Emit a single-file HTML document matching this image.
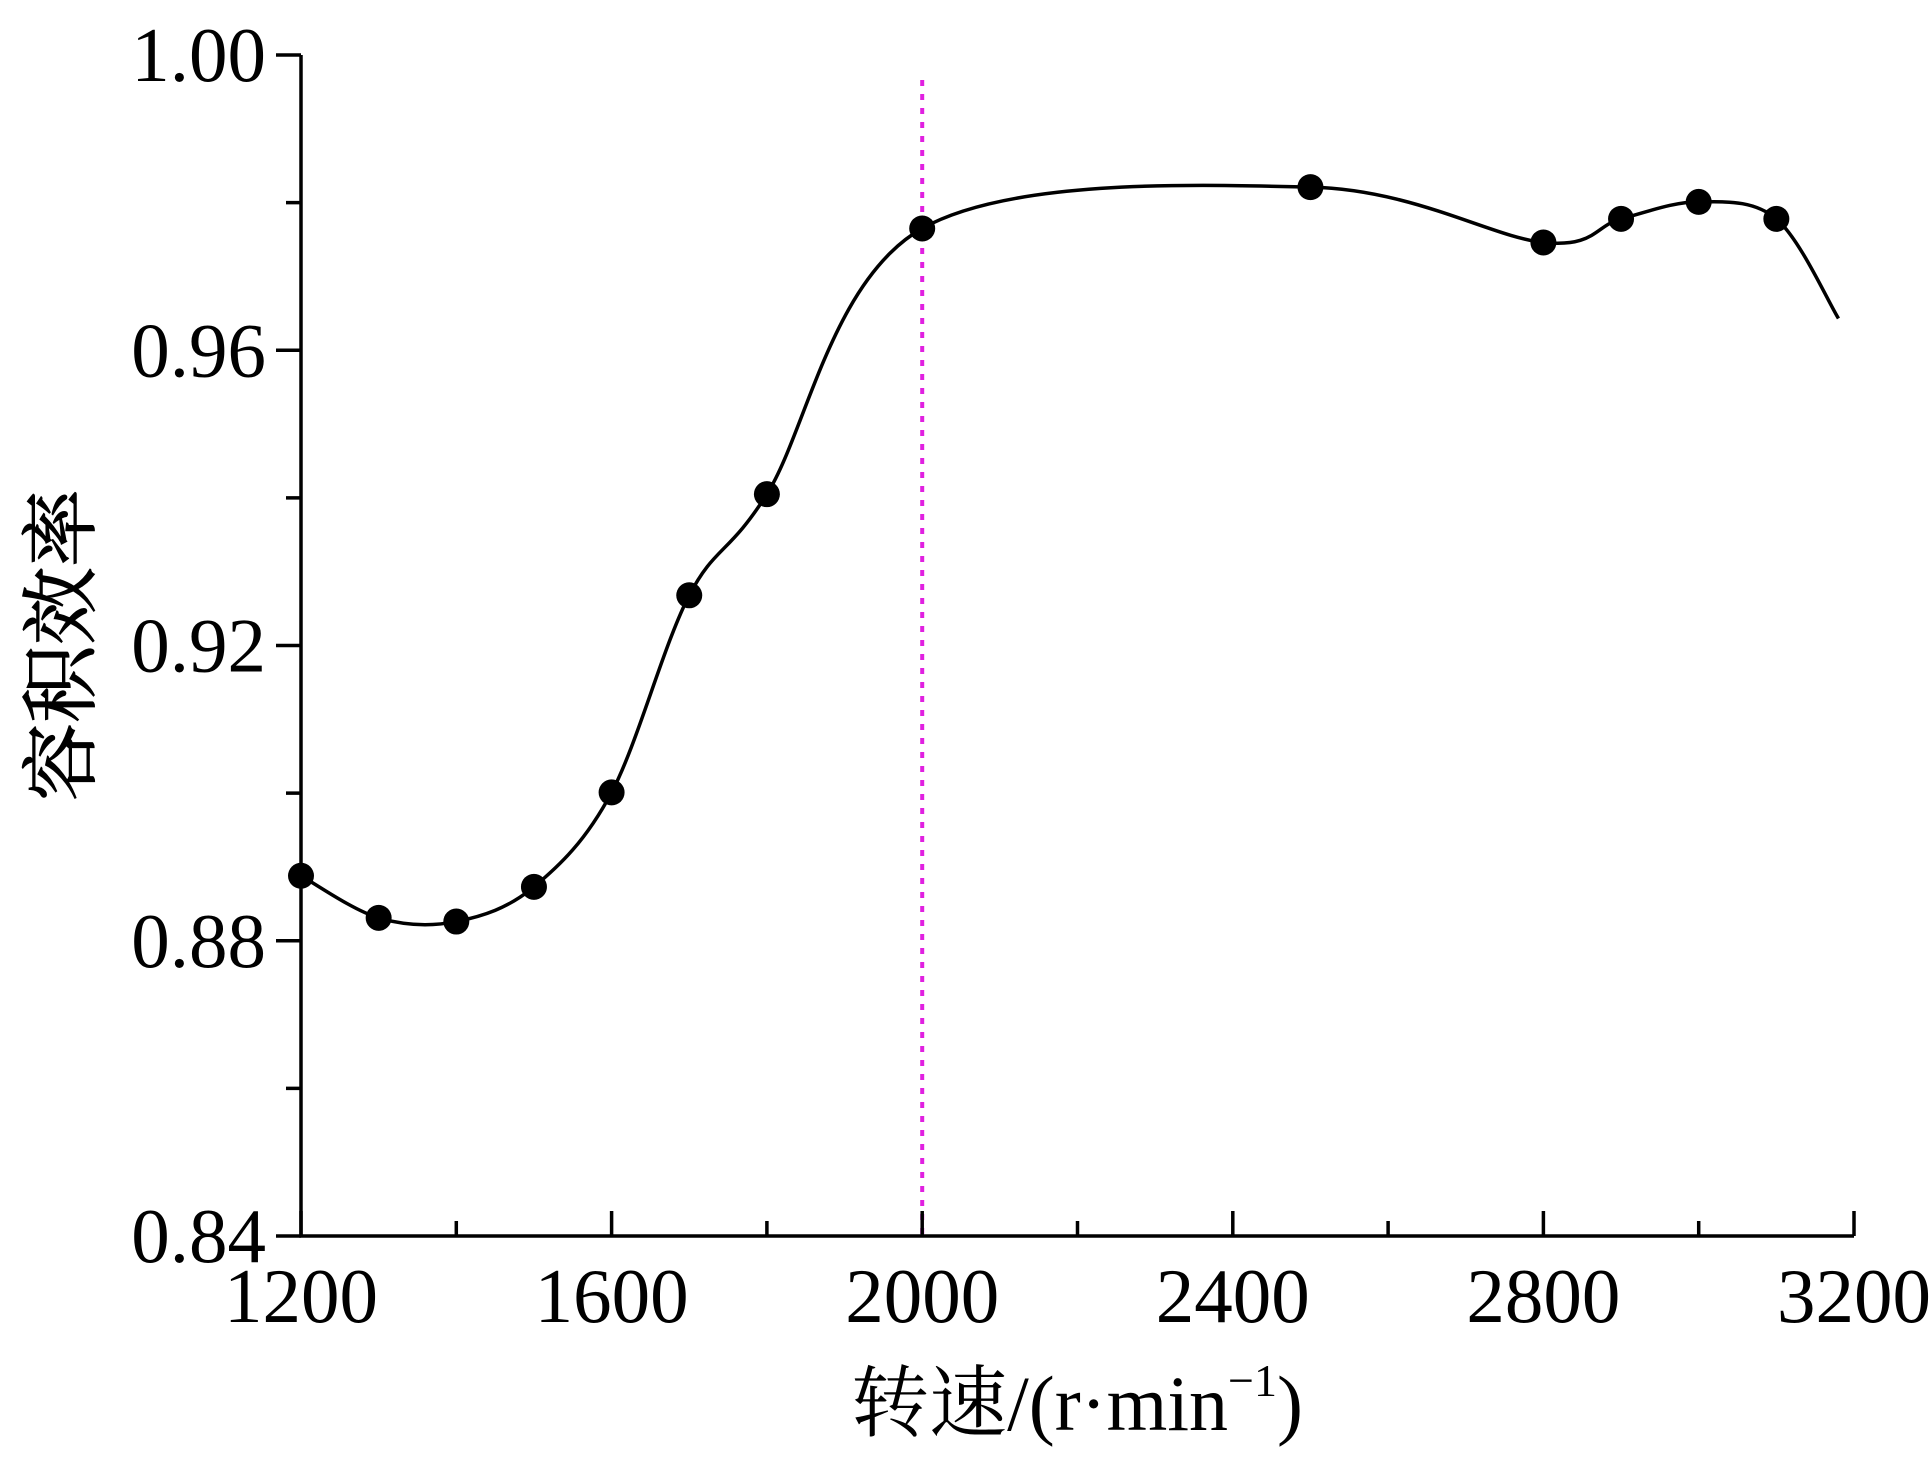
<!DOCTYPE html>
<html><head><meta charset="utf-8"><style>
body{margin:0;background:#fff}
svg text{font-family:"Liberation Serif","Noto Serif CJK SC",serif;fill:#000}
</style></head><body>
<svg id="chart" width="1932" height="1453" xmlns="http://www.w3.org/2000/svg"></svg>
<script>
const speeds=[1200,1300,1400,1500,1600,1700,1800,2000,2500,2800,2900,3000,3100];
const efficiency=[0.8888,0.8831,0.8826,0.8873,0.9001,0.9268,0.9405,0.9765,0.9821,0.9746,0.9778,0.9801,0.9778];
const curveEndSpeed=[3180];
const curveEndValue=[0.9643];
const xTicks=[1200,1600,2000,2400,2800,3200];
const yTicks=[0.84,0.88,0.92,0.96,1.00];
const refLineSpeed=[2000];

const L=301,R=1854,T=55,B=1236;
const xs=v=>L+(v-1200)/2000*(R-L);
const ys=v=>B-(v-0.84)/0.16*(B-T);
const svg=document.getElementById('chart');
const NS='http://www.w3.org/2000/svg';
function mk(tag,attrs,parent){const e=document.createElementNS(NS,tag);for(const k in attrs)e.setAttribute(k,attrs[k]);(parent||svg).appendChild(e);return e;}

for(const s of refLineSpeed){
 const l=mk('line',{x1:xs(s),x2:xs(s),y1:80,y2:B,stroke:'#e020e0','stroke-width':4,'stroke-dasharray':'6,8'});
 
 
}
const ax=mk('path',{d:`M${L},${T} L${L},${B} L${R},${B}`,fill:'none',stroke:'#000','stroke-width':3.5});


yTicks.forEach((v,i)=>{
 mk('line',{x1:L-25,x2:L,y1:ys(v),y2:ys(v),stroke:'#000','stroke-width':3.5});
 if(i<yTicks.length-1){const m=(v+yTicks[i+1])/2;mk('line',{x1:L-15,x2:L,y1:ys(m),y2:ys(m),stroke:'#000','stroke-width':3.5});}
 const t=mk('text',{x:L-35,y:ys(v)+26,'font-size':77,'text-anchor':'end'});
 t.textContent=v.toFixed(2);
 
 
});
xTicks.forEach((v,i)=>{
 mk('line',{x1:xs(v),x2:xs(v),y1:B,y2:B-25,stroke:'#000','stroke-width':3.5});
 if(i<xTicks.length-1){const m=(v+xTicks[i+1])/2;mk('line',{x1:xs(m),x2:xs(m),y1:B,y2:B-15,stroke:'#000','stroke-width':3.5});}
 const t=mk('text',{x:xs(v),y:B+86,'font-size':77,'text-anchor':'middle'});
 t.textContent=v;
 
 
});
const px=speeds.concat(curveEndSpeed).map(xs), py=efficiency.concat(curveEndValue).map(ys);
let d=`M${px[0]},${py[0]}`;
for(let i=0;i<px.length-1;i++){
 const x0=px[Math.max(i-1,0)],y0=py[Math.max(i-1,0)],x3=px[Math.min(i+2,px.length-1)],y3=py[Math.min(i+2,px.length-1)];
 const c1x=px[i]+(px[i+1]-x0)/6,c1y=py[i]+(py[i+1]-y0)/6,c2x=px[i+1]-(x3-px[i])/6,c2y=py[i+1]-(y3-py[i])/6;
 d+=` C${c1x},${c1y} ${c2x},${c2y} ${px[i+1]},${py[i+1]}`;
}
const cv=mk('path',{d,fill:'none',stroke:'#000','stroke-width':3.5});


speeds.forEach((s,i)=>{
 const c=mk('circle',{cx:xs(s),cy:ys(efficiency[i]),r:13,fill:'#000'});
 
 
});
</script>
<svg style="position:absolute;left:0;top:0" width="1932" height="1453">
<text transform="translate(88,645) rotate(-90)" font-size="78" text-anchor="middle" stroke="#000" stroke-width="1">容积效率</text>
<text x="1077" y="1430" font-size="78" text-anchor="middle">转速/(r·min<tspan font-size="46" dy="-34">−1</tspan><tspan dy="34">)</tspan></text>
</svg>
</body></html>
